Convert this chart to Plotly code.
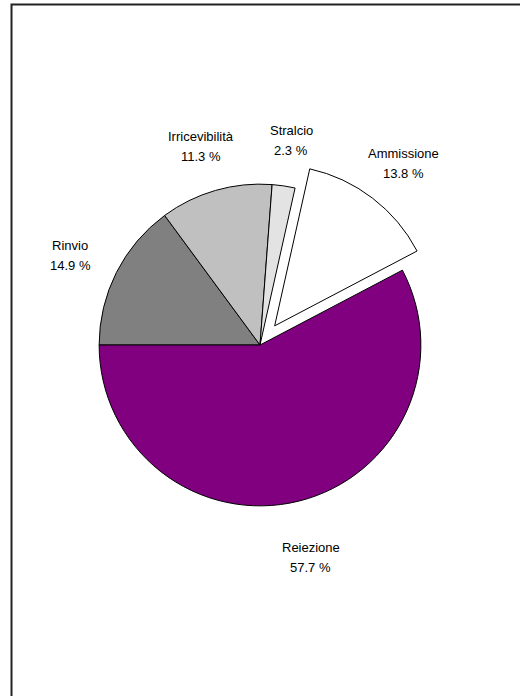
import math
import plotly.graph_objects as go

# Data
labels = ["Rinvio", "Irricevibilità", "Stralcio", "Ammissione", "Reiezione"]
values = [14.9, 11.3, 2.3, 13.8, 57.7]
colors = ["#808080", "#c0c0c0", "#e3e3e3", "#ffffff", "#800080"]
pulls = [0, 0, 0, 0.15, 0]

W, H = 520, 696
CX, CY = 260, 345          # pie centre in px
HALF = 185                 # half size of pie domain in px
ROT = 270

fig = go.Figure(go.Pie(
    labels=labels, values=values, sort=False, direction="clockwise",
    rotation=ROT, pull=pulls, textinfo="none", hoverinfo="label+percent",
    marker=dict(colors=colors, line=dict(color="black", width=1)),
    domain=dict(x=[(CX - HALF) / W, (CX + HALF) / W],
                y=[1 - (CY + HALF) / H, 1 - (CY - HALF) / H]),
    showlegend=False,
))

# Labels placed around the pie at each slice's mid angle
R = HALF / (1 + max(pulls))
total = sum(values)
cum = 0.0
annotations = []
font = dict(family="Liberation Sans, Arial, sans-serif", size=13, color="black")
for lab, v, p in zip(labels, values, pulls):
    mid = math.radians(ROT + (cum + v / 2) / total * 360)
    cum += v
    cx = CX + p * R * math.sin(mid)
    cy = CY - p * R * math.cos(mid)
    lx = cx + 1.32 * R * math.sin(mid)
    ly = cy - 1.32 * R * math.cos(mid) + 6
    for txt, shift in ((lab, 10), (f"{v:.1f} %", -10)):
        annotations.append(dict(
            x=lx / W, y=1 - ly / H, xref="paper", yref="paper",
            text=txt, showarrow=False, font=font, yshift=shift,
            align="center", xanchor="center", yanchor="middle",
        ))

fig.update_layout(
    width=W, height=H, margin=dict(l=0, r=0, t=0, b=0),
    paper_bgcolor="white", plot_bgcolor="white",
    annotations=annotations,
    shapes=[dict(type="rect", xref="paper", yref="paper",
                 x0=11.5 / W, x1=1.02, y0=-0.02, y1=1 - 4.5 / H,
                 line=dict(color="#222222", width=2))],
)

fig.write_html("out.html", config={"displayModeBar": False},
               post_script="document.body.style.margin='0';")
